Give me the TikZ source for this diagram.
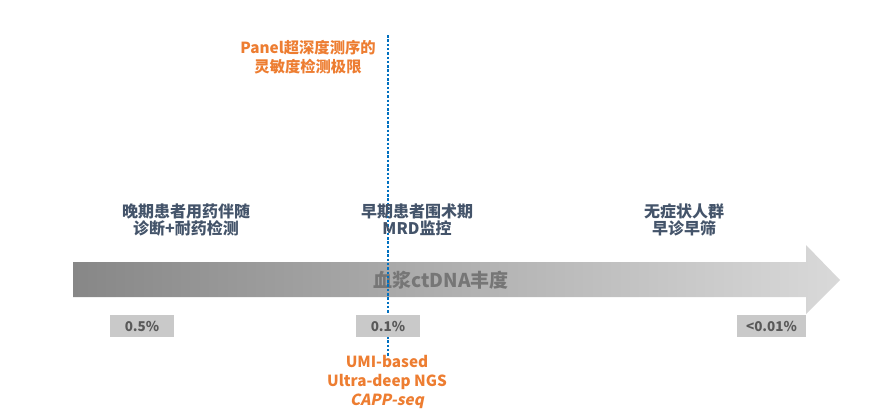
\documentclass[tikz,border=0pt]{standalone}
\usepackage{fontspec}
\setmainfont{Noto Sans CJK SC}
\newfontfamily\slantfont{Noto Sans CJK SC}[FakeSlant=0.2,BoldFeatures={FakeSlant=0.2}]
\usepackage{xcolor}
\definecolor{cOrg}{HTML}{ED7D31}
\definecolor{cSlate}{HTML}{44546A}
\definecolor{cLine}{HTML}{0070C0}
\definecolor{cDark}{HTML}{878787}
\definecolor{cLight}{HTML}{D9D9D9}
\definecolor{cBox}{HTML}{C9C9C9}
\definecolor{cBoxT}{HTML}{595959}
\definecolor{cAxis}{HTML}{767676}
\tikzset{
  stage/.style={align=center,font=\fontsize{16}{17.5}\selectfont\bfseries,text=cSlate,inner sep=0pt},
  note/.style={align=center,font=\fontsize{15.3}{19}\selectfont\bfseries,text=cOrg,inner sep=0pt},
  level/.style={fill=cBox,minimum width=64pt,minimum height=22pt,inner sep=0pt,font=\fontsize{13.5}{14}\selectfont\bfseries,text=cBoxT},
  limit/.style={draw=cLine,line width=2pt,dash pattern=on 2.5pt off 1.8pt},
}

\begin{document}
\begin{tikzpicture}[x=1pt,y=-1pt]
  \useasboundingbox (0,0) rectangle (870,416);

  % abundance axis
  \shade[left color=cDark,right color=cLight]
    (73,262) -- (806,262) -- (806,245) -- (840,280) -- (806,314) -- (806,297) -- (73,297) -- cycle;
  \node[font=\fontsize{19}{21}\selectfont\bfseries,text=cAxis,inner sep=0pt] (axis) at (441,280) {血浆ctDNA丰度};

  % detection limit
  \coordinate (top) at (388,35);
  \coordinate (bot) at (388,356);
  \draw[limit] (top) -- (bot);

  \node[note] (panel) at (308,57) {Panel超深度测序的\\灵敏度检测极限};
  \node[note] (umi) at (387,382) {UMI-based\\Ultra-deep NGS\\{\slantfont\bfseries CAPP-seq}};

  % stages
  \node[stage] (late) at (186,220) {晚期患者用药伴随\\诊断+耐药检测};
  \node[stage] (early) at (417,220) {早期患者围术期\\MRD监控};
  \node[stage] (screen) at (684,220) {无症状人群\\早诊早筛};

  % levels
  \node[level] (l1) at (142,326) {0.5\%};
  \node[level] (l2) at (388,326) {0.1\%};
  \node[level,minimum width=69pt] (l3) at (771.5,326) {<0.01\%};
\end{tikzpicture}
\end{document}
